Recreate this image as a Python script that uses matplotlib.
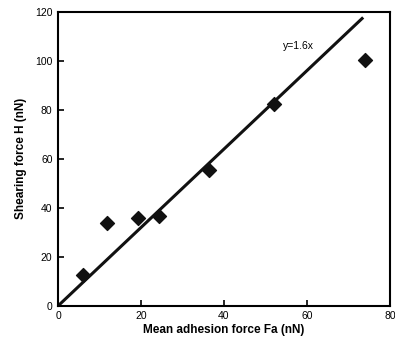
import matplotlib
matplotlib.use("Agg")
import matplotlib.pyplot as plt
import numpy as np

fa = [6.0, 11.8, 19.3, 24.4, 36.4, 52.0, 74.0]
h = [12.5, 34.0, 35.8, 36.8, 55.5, 82.5, 100.5]
slope = 1.6
fit_x = [0, 73.3]
xticks = [0, 20, 40, 60, 80]
yticks = [0, 20, 40, 60, 80, 100, 120]

plt.rcParams['font.family'] = ['Liberation Sans', 'DejaVu Sans']
fig = plt.figure(figsize=(3.95, 3.48), dpi=100)
ax = fig.add_axes([0.147, 0.121, 0.84, 0.845])

ax.plot(fit_x, [slope * v for v in fit_x], color='#111111', lw=2.2, zorder=2)
ax.scatter(fa, h, marker='D', s=50, color='#111111', zorder=3)
ax.text(58, 106, 'y=1.6x', fontsize=7.5, ha='center', va='center')

ax.set_xlim(0, 80)
ax.set_ylim(0, 120)
ax.set_xticks(xticks)
ax.set_yticks(yticks)
ax.tick_params(direction='in', length=4, width=1.2, labelsize=7.5, pad=4)
for s in ax.spines.values():
    s.set_linewidth(1.5)
ax.set_xlabel('Mean adhesion force Fa (nN)', fontsize=8.5, fontweight='bold', labelpad=2)
ax.set_ylabel('Shearing force H (nN)', fontsize=8.5, fontweight='bold', labelpad=6)

fig.savefig('out.png', dpi=100)
